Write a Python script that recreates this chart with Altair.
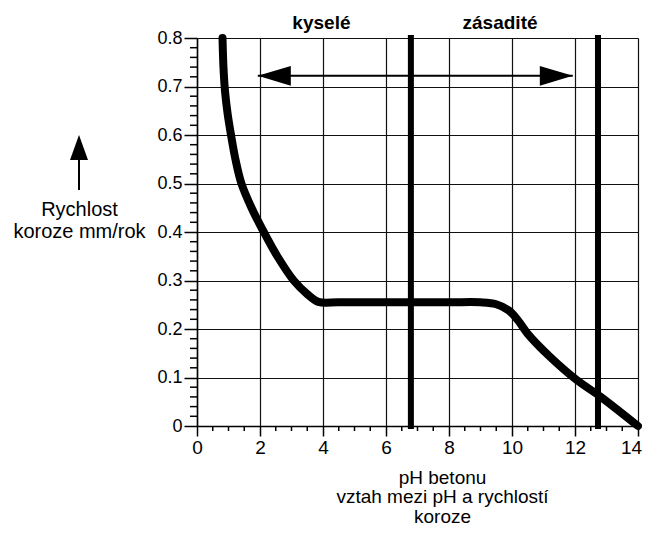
import altair as alt
import pandas as pd

# ---- data ----
ph_values = [0.81, 0.84, 0.89, 0.97, 1.08, 1.22, 1.41, 1.73, 2.12, 2.55, 3.07, 3.5, 3.85,
             4.5, 6.0, 8.0, 9.0, 9.5, 9.9, 10.2, 10.5, 11.2, 12.05, 12.8, 14.0]
rate_values = [0.80, 0.74, 0.69, 0.645, 0.60, 0.55, 0.50, 0.45, 0.40, 0.35, 0.30, 0.272, 0.256,
               0.255, 0.255, 0.255, 0.255, 0.251, 0.238, 0.217, 0.19, 0.143, 0.095, 0.061, 0.0]

boundary_ph = [6.79, 12.73]
region_names = ["kyselé", "zásadité"]
region_ph = [3.95, 9.62]
arrow_from = [1.93]
arrow_to = [11.93]
arrow_rate = [0.722]

x_tick_values = [0, 2, 4, 6, 8, 10, 12, 14]
y_tick_values = [0.0, 0.1, 0.2, 0.3, 0.4, 0.5, 0.6, 0.7, 0.8]
x_minor_values = [i * 0.5 for i in range(29) if i % 4 != 0]
y_minor_values = [round(i * 0.02, 2) for i in range(41) if i % 5 != 0]

x_title = ["pH betonu", "vztah mezi pH a rychlostí", "koroze"]
y_title = ["Rychlost", "koroze mm/rok"]

W, H = 441, 388
FONT = "Liberation Sans"

curve = pd.DataFrame({"pH": ph_values, "rate": rate_values})
bounds = pd.DataFrame({"pH": boundary_ph})
regions = pd.DataFrame({"pH": region_ph, "name": region_names})
arrow = pd.DataFrame({"pH": arrow_from, "pH2": arrow_to, "rate": arrow_rate})
heads_left = pd.DataFrame({"pH": arrow_from, "rate": arrow_rate})
heads_right = pd.DataFrame({"pH": arrow_to, "rate": arrow_rate})
xminor = pd.DataFrame({"pH": x_minor_values})
yminor = pd.DataFrame({"rate": y_minor_values})
dummy = pd.DataFrame({"a": [0]})

xs = alt.Scale(domain=[0, 14], nice=False, zero=False)
ys = alt.Scale(domain=[0, 0.8], nice=False)

x_axis = alt.Axis(
    values=x_tick_values, grid=True, gridColor="#111", gridWidth=1.2,
    domainColor="#000", domainWidth=1.5, tickColor="#000", tickWidth=1.5, tickSize=10,
    labelFont=FONT, labelFontSize=19, labelColor="#000", labelPadding=2, labelFlush=False,
    labelOverlap=False,
    labelOffset={"condition": {"test": "datum.value == 14", "value": -7}, "value": 0},
    title=x_title, titleFont=FONT, titleFontSize=19, titleFontWeight="normal", titleColor="#000",
    titleX=245, titleY=57, titleAlign="center", titleBaseline="alphabetic", titleLineHeight=19.5,
)
y_axis = alt.Axis(
    values=y_tick_values, grid=True, gridColor="#111", gridWidth=1.2,
    domainColor="#000", domainWidth=1.5, tickColor="#000", tickWidth=1.5, tickSize=13,
    labelFont=FONT, labelFontSize=18, labelColor="#000", labelPadding=2,
    labelExpr="datum.value == 0 ? '0' : format(datum.value, '.1f')",
    title=y_title, titleFont=FONT, titleFontSize=20, titleFontWeight="normal", titleColor="#000",
    titleAngle=0, titleX=-118, titleY=177, titleAlign="center", titleBaseline="alphabetic",
    titleLineHeight=22,
)

line = alt.Chart(curve).mark_line(
    interpolate="catmull-rom", strokeWidth=8, color="black", strokeCap="round"
).encode(
    x=alt.X("pH:Q", scale=xs, axis=x_axis),
    y=alt.Y("rate:Q", scale=ys, axis=y_axis),
)

thick = alt.Chart(bounds).mark_rule(strokeWidth=6, color="black").encode(
    x=alt.X("pH:Q", scale=xs),
    y=alt.value(-3), y2=alt.value(H + 3),
)

xminor_l = alt.Chart(xminor).mark_rule(strokeWidth=1.5, color="black").encode(
    x=alt.X("pH:Q", scale=xs),
    y=alt.value(H), y2=alt.value(H + 5),
)
yminor_l = alt.Chart(yminor).mark_rule(strokeWidth=1.5, color="black").encode(
    y=alt.Y("rate:Q", scale=ys),
    x=alt.value(-7), x2=alt.value(0),
)

arrow_l = alt.Chart(arrow).mark_rule(strokeWidth=2, color="black").encode(
    x=alt.X("pH:Q", scale=xs), x2="pH2:Q",
    y=alt.Y("rate:Q", scale=ys),
)
head_l = alt.Chart(heads_left).mark_point(
    shape="M-1,0L1,-0.6L1,0.6Z", size=1089, filled=True, opacity=1, color="black", xOffset=16.5
).encode(x=alt.X("pH:Q", scale=xs), y=alt.Y("rate:Q", scale=ys))
head_r = alt.Chart(heads_right).mark_point(
    shape="M1,0L-1,-0.6L-1,0.6Z", size=1089, filled=True, opacity=1, color="black", xOffset=-16.5
).encode(x=alt.X("pH:Q", scale=xs), y=alt.Y("rate:Q", scale=ys))

labels = alt.Chart(regions).mark_text(
    font=FONT, fontSize=19, fontWeight="bold", baseline="middle", align="center", color="black"
).encode(
    x=alt.X("pH:Q", scale=xs), y=alt.value(-15), text="name:N"
)

up_shaft = alt.Chart(dummy).mark_rule(strokeWidth=2, color="black").encode(
    x=alt.value(-118), y=alt.value(118), y2=alt.value(152)
)
up_head = alt.Chart(dummy).mark_point(
    shape="M0,-1L-0.72,1L0.72,1Z", size=625, filled=True, opacity=1, color="black"
).encode(x=alt.value(-118), y=alt.value(109.5))

chart = alt.layer(
    line, thick, xminor_l, yminor_l, arrow_l, head_l, head_r, labels, up_shaft, up_head
).properties(
    width=W, height=H,
    autosize=alt.AutoSizeParams(type="none"),
    padding={"left": 189, "top": 30, "right": 4, "bottom": 101},
    background="white",
).configure_view(stroke=None)

chart.save("out.html", embed_options={"renderer": "svg", "actions": False})
